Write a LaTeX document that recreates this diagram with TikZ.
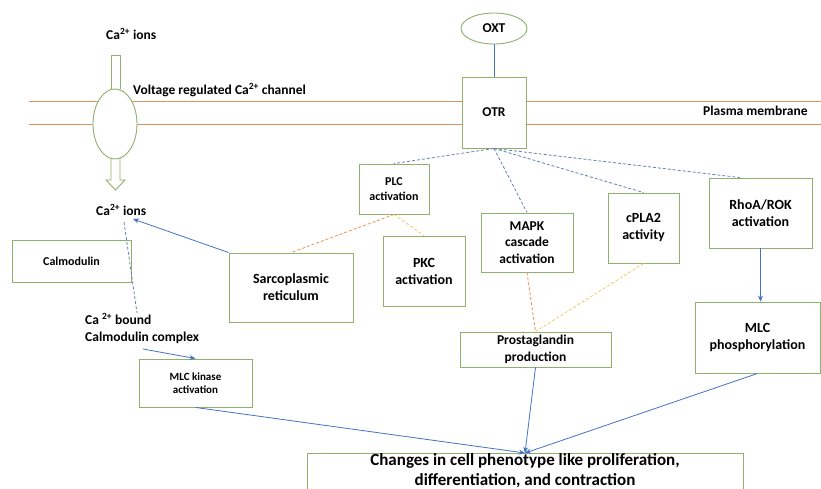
\documentclass[tikz,border=0pt]{standalone}
\usepackage{fontspec}
\setmainfont{Carlito}
\usetikzlibrary{shapes.geometric,arrows.meta,calc}
\definecolor{boxgreen}{RGB}{140,178,110}
\definecolor{membrane}{RGB}{214,150,100}
\definecolor{linkblue}{RGB}{70,115,195}
\definecolor{dashblue}{RGB}{100,130,175}
\definecolor{dashorange}{RGB}{232,145,85}
\definecolor{dashyellow}{RGB}{235,205,100}
\begin{document}
\begin{tikzpicture}[x=1pt,y=-1pt,
  f11/.style={font=\fontsize{11}{13.5}\selectfont\bfseries},
  f12/.style={font=\fontsize{12}{15}\selectfont\bfseries},
  f13/.style={font=\fontsize{13.5}{16.5}\selectfont\bfseries},
  f14/.style={font=\fontsize{14}{17}\selectfont\bfseries},
  box/.style={draw=boxgreen, line width=0.9pt, fill=white, align=center, inner sep=2pt},
  lbl/.style={f13, inner sep=0pt},
  arrowblue/.style={draw=linkblue, line width=0.8pt, -{Stealth[length=6pt,width=5pt]}},
  linkline/.style={draw=linkblue, line width=0.8pt},
  dblue/.style={draw=dashblue, line width=0.8pt, dash pattern=on 3pt off 2pt},
  dorange/.style={draw=dashorange, line width=0.8pt, dash pattern=on 3pt off 2pt},
  dyellow/.style={draw=dashyellow, line width=0.8pt, dash pattern=on 3pt off 2pt},
  hollow/.style={draw=boxgreen, line width=0.9pt, fill=white}]

\useasboundingbox (0,0) rectangle (821,489);
\clip (0,0) rectangle (821,489);
\fill[white] (0,0) rectangle (821,489);

% plasma membrane
\draw[membrane, line width=1pt] (29,101.5) -- (821,101.5);
\draw[membrane, line width=1pt] (29,124.5) -- (821,124.5);
\node[lbl, anchor=west] (pm) at (703,111) {Plasma membrane};

% calcium channel with its hollow arrows
\draw[hollow] (111,89) -- (111,55) -- (120,55) -- (120,89);
\draw[hollow] (111,155) -- (111,180) -- (106,180) -- (115.5,190) -- (125,180) -- (120,180) -- (120,155);
\node[ellipse, draw=boxgreen, line width=0.9pt, fill=white, minimum width=44pt, minimum height=70pt, inner sep=0pt] (chan) at (115,124) {};
\node[lbl, anchor=west] (caout) at (106,34) {Ca\textsuperscript{2+} ions};
\node[lbl, anchor=west] (vchan) at (133,90) {Voltage regulated Ca\textsuperscript{2+} channel};
\node[lbl, anchor=west] (cain) at (96,210) {Ca\textsuperscript{2+} ions};

% receptor
\node[ellipse, draw=boxgreen, line width=0.9pt, fill=white, minimum width=66pt, minimum height=31pt, inner sep=0pt, f13] (oxt) at (494,28.5) {OXT};
\node[box, minimum width=64pt, minimum height=71pt, f13] (otr) at (494,112.5) {OTR};

% signalling boxes
\node[box, minimum width=70pt, minimum height=50pt, f12] (plc) at (394,189) {PLC\\activation};
\node[box, minimum width=119pt, minimum height=42pt, f12] (calm) at (71.5,261) {Calmodulin};
\node[box, minimum width=124pt, minimum height=69pt, f14] (sarco) at (291,287.5) {Sarcoplasmic\\reticulum};
\node[box, minimum width=82pt, minimum height=70pt, f14] (pkc) at (424,271) {PKC\\activation};
\node[box, minimum width=92pt, minimum height=59pt, f13] (mapk) at (527,242.5) {MAPK\\cascade\\activation};
\node[box, minimum width=71pt, minimum height=70pt, f14] (cpla) at (643.5,228) {cPLA2\\activity};
\node[box, minimum width=103pt, minimum height=70pt, f14] (rhoa) at (760.5,213) {RhoA/ROK\\activation};
\node[box, minimum width=125pt, minimum height=71pt, f14] (mlcp) at (757.5,337.5) {MLC\\phosphorylation};
\node[box, minimum width=151pt, minimum height=35pt, f13] (prost) at (535.5,349.5) {Prostaglandin\\production};
\node[box, minimum width=113pt, minimum height=48pt, f11] (mlck) at (195.5,383) {MLC kinase\\activation};
\node[lbl, align=left, anchor=north west, font=\fontsize{13.5}{17}\selectfont\bfseries] (cabound) at (85,313) {Ca \textsuperscript{2+} bound\\Calmodulin complex};

% outcome box
\node[draw=boxgreen, line width=0.9pt, fill=white, minimum width=436pt, minimum height=50pt, anchor=north, inner sep=0pt] (chg) at (525,453) {};
\node[font=\fontsize{17}{19.5}\selectfont\bfseries, align=center, inner sep=0pt] (chgtext) at (525,470.5) {Changes in cell phenotype like proliferation,\\differentiation, and contraction};

% free ends of connectors
\coordinate (caTip) at (133,219);
\coordinate (caDash) at (124,222);
\coordinate (cbDash) at (137,313);
\coordinate (cbArrow) at (143,349);
\coordinate (rhoaIn) at ($(rhoa.north west)!0.3!(rhoa.north east)$);

% connectors
\draw[linkline] (oxt.south) -- (otr.north);
\draw[dblue] (otr.south) -- (plc.north);
\draw[dblue] (otr.south) -- (mapk.north);
\draw[dblue] (otr.south) -- (cpla.north);
\draw[dblue] (otr.south) -- (rhoaIn);
\draw[dorange] (plc.south) -- (sarco.north);
\draw[dyellow] (plc.south) -- (pkc.north);
\draw[dorange] (mapk.south) -- (prost.north);
\draw[dyellow] (cpla.south) -- (prost.north);
\draw[arrowblue] (sarco.north west) -- (caTip);
\draw[dblue] (caDash) -- (cbDash);
\draw[arrowblue] (cbArrow) -- (mlck.north);
\draw[arrowblue] (rhoa.south) -- (rhoa.south |- mlcp.north);
\draw[arrowblue] (mlck.south) -- (chg.north);
\draw[arrowblue] (prost.south) -- (chg.north);
\draw[arrowblue] (mlcp.south) -- (chg.north);
\end{tikzpicture}
\end{document}
